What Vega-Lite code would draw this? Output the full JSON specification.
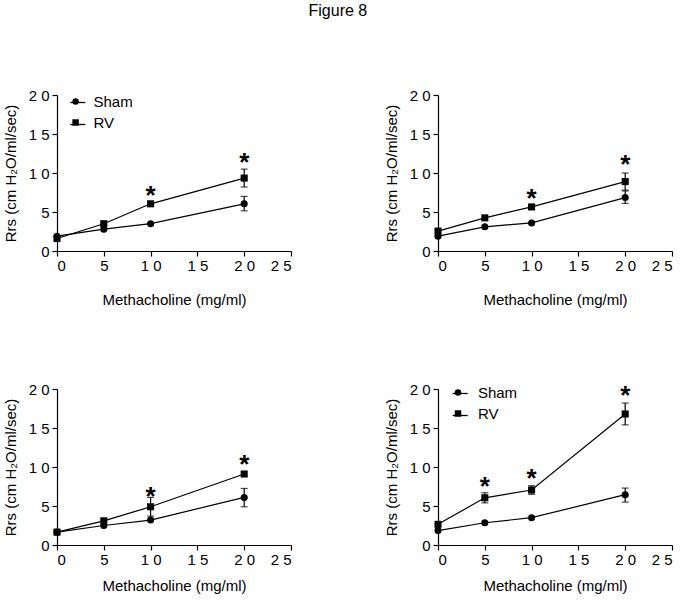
{
  "$schema": "https://vega.github.io/schema/vega-lite/v6.json",
  "padding": {"left": 3, "top": 3, "right": 5, "bottom": 5},
  "title": {"text": "Figure 8", "fontSize": 16, "fontWeight": "normal", "anchor": "middle", "offset": 69, "color": "black"},
  "datasets": {
    "pts": [
      {"panel": "A", "group": "Sham", "dose": 0, "rrs": 1.9, "lo": null, "hi": null},
      {"panel": "A", "group": "Sham", "dose": 5, "rrs": 2.8, "lo": null, "hi": null},
      {"panel": "A", "group": "Sham", "dose": 10, "rrs": 3.5, "lo": null, "hi": null},
      {"panel": "A", "group": "Sham", "dose": 20, "rrs": 6.05, "lo": 5.15, "hi": 7.0},
      {"panel": "A", "group": "RV", "dose": 0, "rrs": 1.6, "lo": null, "hi": null},
      {"panel": "A", "group": "RV", "dose": 5, "rrs": 3.5, "lo": null, "hi": null},
      {"panel": "A", "group": "RV", "dose": 10, "rrs": 6.05, "lo": null, "hi": null},
      {"panel": "A", "group": "RV", "dose": 20, "rrs": 9.35, "lo": 8.2, "hi": 10.5},
      {"panel": "B", "group": "Sham", "dose": 0, "rrs": 1.9, "lo": null, "hi": null},
      {"panel": "B", "group": "Sham", "dose": 5, "rrs": 3.1, "lo": null, "hi": null},
      {"panel": "B", "group": "Sham", "dose": 10, "rrs": 3.6, "lo": null, "hi": null},
      {"panel": "B", "group": "Sham", "dose": 20, "rrs": 6.85, "lo": 6.1, "hi": 7.7},
      {"panel": "B", "group": "RV", "dose": 0, "rrs": 2.55, "lo": null, "hi": null},
      {"panel": "B", "group": "RV", "dose": 5, "rrs": 4.25, "lo": null, "hi": null},
      {"panel": "B", "group": "RV", "dose": 10, "rrs": 5.65, "lo": null, "hi": null},
      {"panel": "B", "group": "RV", "dose": 20, "rrs": 8.9, "lo": 7.8, "hi": 10.0},
      {"panel": "C", "group": "Sham", "dose": 0, "rrs": 1.65, "lo": null, "hi": null},
      {"panel": "C", "group": "Sham", "dose": 5, "rrs": 2.5, "lo": null, "hi": null},
      {"panel": "C", "group": "Sham", "dose": 10, "rrs": 3.2, "lo": null, "hi": null},
      {"panel": "C", "group": "Sham", "dose": 20, "rrs": 6.1, "lo": 4.9, "hi": 7.25},
      {"panel": "C", "group": "RV", "dose": 0, "rrs": 1.65, "lo": null, "hi": null},
      {"panel": "C", "group": "RV", "dose": 5, "rrs": 3.1, "lo": null, "hi": null},
      {"panel": "C", "group": "RV", "dose": 10, "rrs": 4.9, "lo": 3.7, "hi": 6.1},
      {"panel": "C", "group": "RV", "dose": 20, "rrs": 9.1, "lo": null, "hi": null},
      {"panel": "D", "group": "Sham", "dose": 0, "rrs": 1.85, "lo": null, "hi": null},
      {"panel": "D", "group": "Sham", "dose": 5, "rrs": 2.85, "lo": null, "hi": null},
      {"panel": "D", "group": "Sham", "dose": 10, "rrs": 3.5, "lo": null, "hi": null},
      {"panel": "D", "group": "Sham", "dose": 20, "rrs": 6.45, "lo": 5.5, "hi": 7.3},
      {"panel": "D", "group": "RV", "dose": 0, "rrs": 2.65, "lo": null, "hi": null},
      {"panel": "D", "group": "RV", "dose": 5, "rrs": 6.05, "lo": 5.4, "hi": 6.7},
      {"panel": "D", "group": "RV", "dose": 10, "rrs": 7.05, "lo": 6.5, "hi": 7.6},
      {"panel": "D", "group": "RV", "dose": 20, "rrs": 16.8, "lo": 15.4, "hi": 18.2}
    ],
    "stars": [
      {"panel": "A", "dose": 10, "rrs": 8.0},
      {"panel": "A", "dose": 20, "rrs": 12.2},
      {"panel": "B", "dose": 10, "rrs": 7.6},
      {"panel": "B", "dose": 20, "rrs": 11.9},
      {"panel": "C", "dose": 10, "rrs": 7.05},
      {"panel": "C", "dose": 20, "rrs": 11.2},
      {"panel": "D", "dose": 5, "rrs": 8.3},
      {"panel": "D", "dose": 10, "rrs": 9.35},
      {"panel": "D", "dose": 20, "rrs": 20.0}
    ]
  },
  "resolve": {"scale": {"shape": "independent", "stroke": "independent"}, "legend": {"shape": "independent", "stroke": "independent"}},
  "vconcat": [
    {
      "resolve": {"scale": {"shape": "independent", "stroke": "independent"}, "legend": {"shape": "independent", "stroke": "independent"}},
      "hconcat": [
        {
          "width": 234, "height": 156,
          "data": {"name": "pts"},
          "transform": [{"filter": "datum.panel === 'A'"}],
          "layer": [
            {"mark": {"type": "line", "strokeWidth": 1.2},
             "encoding": {
               "x": {"field": "dose", "type": "quantitative", "scale": {"domain": [0, 25], "nice": false}, "axis": {"values": [0, 5, 10, 15, 20, 25], "titlePadding": 19, "title": "Methacholine (mg/ml)"}},
               "y": {"field": "rrs", "type": "quantitative", "scale": {"domain": [0, 20], "nice": false}, "axis": {"values": [0, 5, 10, 15, 20], "title": "Rrs (cm H₂O/ml/sec)"}},
               "stroke": {"field": "group", "type": "nominal", "sort": ["Sham", "RV"], "scale": {"range": ["black", "black"]},
                 "legend": {"orient": "none", "legendX": 12.3, "legendY": -1, "title": null, "symbolType": "stroke", "symbolSize": 225, "symbolStrokeWidth": 1.3, "labelExpr": "''", "labelOffset": 0, "rowPadding": 5}}}},
            {"transform": [{"filter": "isValid(datum.lo)"}], "mark": {"type": "rule", "color": "black", "strokeWidth": 1.2},
             "encoding": {"x": {"field": "dose", "type": "quantitative", "axis": {"values": [0, 5, 10, 15, 20, 25], "titlePadding": 19, "title": "Methacholine (mg/ml)"}}, "y": {"field": "lo", "type": "quantitative", "axis": {"values": [0, 5, 10, 15, 20], "title": "Rrs (cm H₂O/ml/sec)"}}, "y2": {"field": "hi"}}},
            {"transform": [{"filter": "isValid(datum.lo)"}], "mark": {"type": "tick", "orient": "horizontal", "color": "black", "size": 7, "thickness": 1.2},
             "encoding": {"x": {"field": "dose", "type": "quantitative", "axis": {"values": [0, 5, 10, 15, 20, 25], "titlePadding": 19, "title": "Methacholine (mg/ml)"}}, "y": {"field": "lo", "type": "quantitative", "axis": {"values": [0, 5, 10, 15, 20], "title": "Rrs (cm H₂O/ml/sec)"}}}},
            {"transform": [{"filter": "isValid(datum.lo)"}], "mark": {"type": "tick", "orient": "horizontal", "color": "black", "size": 7, "thickness": 1.2},
             "encoding": {"x": {"field": "dose", "type": "quantitative", "axis": {"values": [0, 5, 10, 15, 20, 25], "titlePadding": 19, "title": "Methacholine (mg/ml)"}}, "y": {"field": "hi", "type": "quantitative", "axis": {"values": [0, 5, 10, 15, 20], "title": "Rrs (cm H₂O/ml/sec)"}}}},
            {"mark": {"type": "point", "filled": true, "color": "black", "opacity": 1, "size": 50},
             "encoding": {"x": {"field": "dose", "type": "quantitative", "axis": {"values": [0, 5, 10, 15, 20, 25], "titlePadding": 19, "title": "Methacholine (mg/ml)"}}, "y": {"field": "rrs", "type": "quantitative", "axis": {"values": [0, 5, 10, 15, 20], "title": "Rrs (cm H₂O/ml/sec)"}},
               "shape": {"field": "group", "type": "nominal", "scale": {"domain": ["Sham", "RV"], "range": ["circle", "square"]},
                 "legend": {"orient": "none", "legendX": 11.1, "legendY": -1, "title": null, "symbolSize": 42, "symbolOpacity": 1, "labelOffset": 10.4, "rowPadding": 5}}}},
            {"data": {"name": "stars"}, "transform": [{"filter": "datum.panel === 'A'"}],
             "mark": {"type": "text", "text": "*", "fontSize": 26, "fontWeight": "bold", "baseline": "middle", "dy": 7, "color": "black"},
             "encoding": {"x": {"field": "dose", "type": "quantitative", "axis": {"values": [0, 5, 10, 15, 20, 25], "titlePadding": 19, "title": "Methacholine (mg/ml)"}}, "y": {"field": "rrs", "type": "quantitative", "axis": {"values": [0, 5, 10, 15, 20], "title": "Rrs (cm H₂O/ml/sec)"}}}}
          ]
        },
        {
          "width": 234, "height": 156,
          "data": {"name": "pts"},
          "transform": [{"filter": "datum.panel === 'B'"}],
          "layer": [
            {"mark": {"type": "line", "color": "black", "strokeWidth": 1.2},
             "encoding": {
               "x": {"field": "dose", "type": "quantitative", "scale": {"domain": [0, 25], "nice": false}, "axis": {"values": [0, 5, 10, 15, 20, 25], "titlePadding": 19, "title": "Methacholine (mg/ml)"}},
               "y": {"field": "rrs", "type": "quantitative", "scale": {"domain": [0, 20], "nice": false}, "axis": {"values": [0, 5, 10, 15, 20], "title": "Rrs (cm H₂O/ml/sec)"}},
               "detail": {"field": "group"}}},
            {"transform": [{"filter": "isValid(datum.lo)"}], "mark": {"type": "rule", "color": "black", "strokeWidth": 1.2},
             "encoding": {"x": {"field": "dose", "type": "quantitative", "axis": {"values": [0, 5, 10, 15, 20, 25], "titlePadding": 19, "title": "Methacholine (mg/ml)"}}, "y": {"field": "lo", "type": "quantitative", "axis": {"values": [0, 5, 10, 15, 20], "title": "Rrs (cm H₂O/ml/sec)"}}, "y2": {"field": "hi"}}},
            {"transform": [{"filter": "isValid(datum.lo)"}], "mark": {"type": "tick", "orient": "horizontal", "color": "black", "size": 7, "thickness": 1.2},
             "encoding": {"x": {"field": "dose", "type": "quantitative", "axis": {"values": [0, 5, 10, 15, 20, 25], "titlePadding": 19, "title": "Methacholine (mg/ml)"}}, "y": {"field": "lo", "type": "quantitative", "axis": {"values": [0, 5, 10, 15, 20], "title": "Rrs (cm H₂O/ml/sec)"}}}},
            {"transform": [{"filter": "isValid(datum.lo)"}], "mark": {"type": "tick", "orient": "horizontal", "color": "black", "size": 7, "thickness": 1.2},
             "encoding": {"x": {"field": "dose", "type": "quantitative", "axis": {"values": [0, 5, 10, 15, 20, 25], "titlePadding": 19, "title": "Methacholine (mg/ml)"}}, "y": {"field": "hi", "type": "quantitative", "axis": {"values": [0, 5, 10, 15, 20], "title": "Rrs (cm H₂O/ml/sec)"}}}},
            {"mark": {"type": "point", "filled": true, "color": "black", "opacity": 1, "size": 50},
             "encoding": {"x": {"field": "dose", "type": "quantitative", "axis": {"values": [0, 5, 10, 15, 20, 25], "titlePadding": 19, "title": "Methacholine (mg/ml)"}}, "y": {"field": "rrs", "type": "quantitative", "axis": {"values": [0, 5, 10, 15, 20], "title": "Rrs (cm H₂O/ml/sec)"}},
               "shape": {"field": "group", "type": "nominal", "scale": {"domain": ["Sham", "RV"], "range": ["circle", "square"]}, "legend": null}}},
            {"data": {"name": "stars"}, "transform": [{"filter": "datum.panel === 'B'"}],
             "mark": {"type": "text", "text": "*", "fontSize": 26, "fontWeight": "bold", "baseline": "middle", "dy": 7, "color": "black"},
             "encoding": {"x": {"field": "dose", "type": "quantitative", "axis": {"values": [0, 5, 10, 15, 20, 25], "titlePadding": 19, "title": "Methacholine (mg/ml)"}}, "y": {"field": "rrs", "type": "quantitative", "axis": {"values": [0, 5, 10, 15, 20], "title": "Rrs (cm H₂O/ml/sec)"}}}}
          ]
        }
      ]
    },
    {
      "resolve": {"scale": {"shape": "independent", "stroke": "independent"}, "legend": {"shape": "independent", "stroke": "independent"}},
      "hconcat": [
        {
          "width": 234, "height": 156,
          "data": {"name": "pts"},
          "transform": [{"filter": "datum.panel === 'C'"}],
          "layer": [
            {"mark": {"type": "line", "color": "black", "strokeWidth": 1.2},
             "encoding": {
               "x": {"field": "dose", "type": "quantitative", "scale": {"domain": [0, 25], "nice": false}, "axis": {"values": [0, 5, 10, 15, 20, 25], "titlePadding": 11, "title": "Methacholine (mg/ml)"}},
               "y": {"field": "rrs", "type": "quantitative", "scale": {"domain": [0, 20], "nice": false}, "axis": {"values": [0, 5, 10, 15, 20], "title": "Rrs (cm H₂O/ml/sec)"}},
               "detail": {"field": "group"}}},
            {"transform": [{"filter": "isValid(datum.lo)"}], "mark": {"type": "rule", "color": "black", "strokeWidth": 1.2},
             "encoding": {"x": {"field": "dose", "type": "quantitative", "axis": {"values": [0, 5, 10, 15, 20, 25], "titlePadding": 11, "title": "Methacholine (mg/ml)"}}, "y": {"field": "lo", "type": "quantitative", "axis": {"values": [0, 5, 10, 15, 20], "title": "Rrs (cm H₂O/ml/sec)"}}, "y2": {"field": "hi"}}},
            {"transform": [{"filter": "isValid(datum.lo)"}], "mark": {"type": "tick", "orient": "horizontal", "color": "black", "size": 7, "thickness": 1.2},
             "encoding": {"x": {"field": "dose", "type": "quantitative", "axis": {"values": [0, 5, 10, 15, 20, 25], "titlePadding": 11, "title": "Methacholine (mg/ml)"}}, "y": {"field": "lo", "type": "quantitative", "axis": {"values": [0, 5, 10, 15, 20], "title": "Rrs (cm H₂O/ml/sec)"}}}},
            {"transform": [{"filter": "isValid(datum.lo)"}], "mark": {"type": "tick", "orient": "horizontal", "color": "black", "size": 7, "thickness": 1.2},
             "encoding": {"x": {"field": "dose", "type": "quantitative", "axis": {"values": [0, 5, 10, 15, 20, 25], "titlePadding": 11, "title": "Methacholine (mg/ml)"}}, "y": {"field": "hi", "type": "quantitative", "axis": {"values": [0, 5, 10, 15, 20], "title": "Rrs (cm H₂O/ml/sec)"}}}},
            {"mark": {"type": "point", "filled": true, "color": "black", "opacity": 1, "size": 50},
             "encoding": {"x": {"field": "dose", "type": "quantitative", "axis": {"values": [0, 5, 10, 15, 20, 25], "titlePadding": 11, "title": "Methacholine (mg/ml)"}}, "y": {"field": "rrs", "type": "quantitative", "axis": {"values": [0, 5, 10, 15, 20], "title": "Rrs (cm H₂O/ml/sec)"}},
               "shape": {"field": "group", "type": "nominal", "scale": {"domain": ["Sham", "RV"], "range": ["circle", "square"]}, "legend": null}}},
            {"data": {"name": "stars"}, "transform": [{"filter": "datum.panel === 'C'"}],
             "mark": {"type": "text", "text": "*", "fontSize": 26, "fontWeight": "bold", "baseline": "middle", "dy": 7, "color": "black"},
             "encoding": {"x": {"field": "dose", "type": "quantitative", "axis": {"values": [0, 5, 10, 15, 20, 25], "titlePadding": 11, "title": "Methacholine (mg/ml)"}}, "y": {"field": "rrs", "type": "quantitative", "axis": {"values": [0, 5, 10, 15, 20], "title": "Rrs (cm H₂O/ml/sec)"}}}}
          ]
        },
        {
          "width": 234, "height": 156,
          "data": {"name": "pts"},
          "transform": [{"filter": "datum.panel === 'D'"}],
          "layer": [
            {"mark": {"type": "line", "strokeWidth": 1.2},
             "encoding": {
               "x": {"field": "dose", "type": "quantitative", "scale": {"domain": [0, 25], "nice": false}, "axis": {"values": [0, 5, 10, 15, 20, 25], "titlePadding": 11, "title": "Methacholine (mg/ml)"}},
               "y": {"field": "rrs", "type": "quantitative", "scale": {"domain": [0, 20], "nice": false}, "axis": {"values": [0, 5, 10, 15, 20], "title": "Rrs (cm H₂O/ml/sec)"}},
               "stroke": {"field": "group", "type": "nominal", "sort": ["Sham", "RV"], "scale": {"range": ["black", "black"]},
                 "legend": {"orient": "none", "legendX": 13.7, "legendY": -4, "title": null, "symbolType": "stroke", "symbolSize": 225, "symbolStrokeWidth": 1.3, "labelExpr": "''", "labelOffset": 0, "rowPadding": 5}}}},
            {"transform": [{"filter": "isValid(datum.lo)"}], "mark": {"type": "rule", "color": "black", "strokeWidth": 1.2},
             "encoding": {"x": {"field": "dose", "type": "quantitative", "axis": {"values": [0, 5, 10, 15, 20, 25], "titlePadding": 11, "title": "Methacholine (mg/ml)"}}, "y": {"field": "lo", "type": "quantitative", "axis": {"values": [0, 5, 10, 15, 20], "title": "Rrs (cm H₂O/ml/sec)"}}, "y2": {"field": "hi"}}},
            {"transform": [{"filter": "isValid(datum.lo)"}], "mark": {"type": "tick", "orient": "horizontal", "color": "black", "size": 7, "thickness": 1.2},
             "encoding": {"x": {"field": "dose", "type": "quantitative", "axis": {"values": [0, 5, 10, 15, 20, 25], "titlePadding": 11, "title": "Methacholine (mg/ml)"}}, "y": {"field": "lo", "type": "quantitative", "axis": {"values": [0, 5, 10, 15, 20], "title": "Rrs (cm H₂O/ml/sec)"}}}},
            {"transform": [{"filter": "isValid(datum.lo)"}], "mark": {"type": "tick", "orient": "horizontal", "color": "black", "size": 7, "thickness": 1.2},
             "encoding": {"x": {"field": "dose", "type": "quantitative", "axis": {"values": [0, 5, 10, 15, 20, 25], "titlePadding": 11, "title": "Methacholine (mg/ml)"}}, "y": {"field": "hi", "type": "quantitative", "axis": {"values": [0, 5, 10, 15, 20], "title": "Rrs (cm H₂O/ml/sec)"}}}},
            {"mark": {"type": "point", "filled": true, "color": "black", "opacity": 1, "size": 50},
             "encoding": {"x": {"field": "dose", "type": "quantitative", "axis": {"values": [0, 5, 10, 15, 20, 25], "titlePadding": 11, "title": "Methacholine (mg/ml)"}}, "y": {"field": "rrs", "type": "quantitative", "axis": {"values": [0, 5, 10, 15, 20], "title": "Rrs (cm H₂O/ml/sec)"}},
               "shape": {"field": "group", "type": "nominal", "scale": {"domain": ["Sham", "RV"], "range": ["circle", "square"]},
                 "legend": {"orient": "none", "legendX": 12.5, "legendY": -4, "title": null, "symbolSize": 42, "symbolOpacity": 1, "labelOffset": 12.4, "rowPadding": 5}}}},
            {"data": {"name": "stars"}, "transform": [{"filter": "datum.panel === 'D'"}],
             "mark": {"type": "text", "text": "*", "fontSize": 26, "fontWeight": "bold", "baseline": "middle", "dy": 7, "color": "black"},
             "encoding": {"x": {"field": "dose", "type": "quantitative", "axis": {"values": [0, 5, 10, 15, 20, 25], "titlePadding": 11, "title": "Methacholine (mg/ml)"}}, "y": {"field": "rrs", "type": "quantitative", "axis": {"values": [0, 5, 10, 15, 20], "title": "Rrs (cm H₂O/ml/sec)"}}}}
          ]
        }
      ]
    }
  ],
  "spacing": 75,
  "config": {
    "font": "Liberation Sans",
    "view": {"stroke": null},
    "concat": {"spacing": 92},
    "axis": {
      "grid": false, "domainColor": "black", "tickColor": "black", "labelColor": "black", "titleColor": "black",
      "labelFontSize": 15, "titleFontSize": 15, "titleFontWeight": "normal", "domainWidth": 1.2, "tickWidth": 1.2, "tickSize": 5,
      "labelOverlap": false,
      "labelExpr": "join(split(datum.label, ''), ' ')", "labelFont": "Liberation Sans", "titleFont": "Liberation Sans"
    },
    "axisX": {"labelPadding": 2},
    "axisY": {"titlePadding": 10, "labelPadding": 3},
    "legend": {"labelFontSize": 15, "labelColor": "black", "labelFont": "Liberation Sans"}
  }
}
